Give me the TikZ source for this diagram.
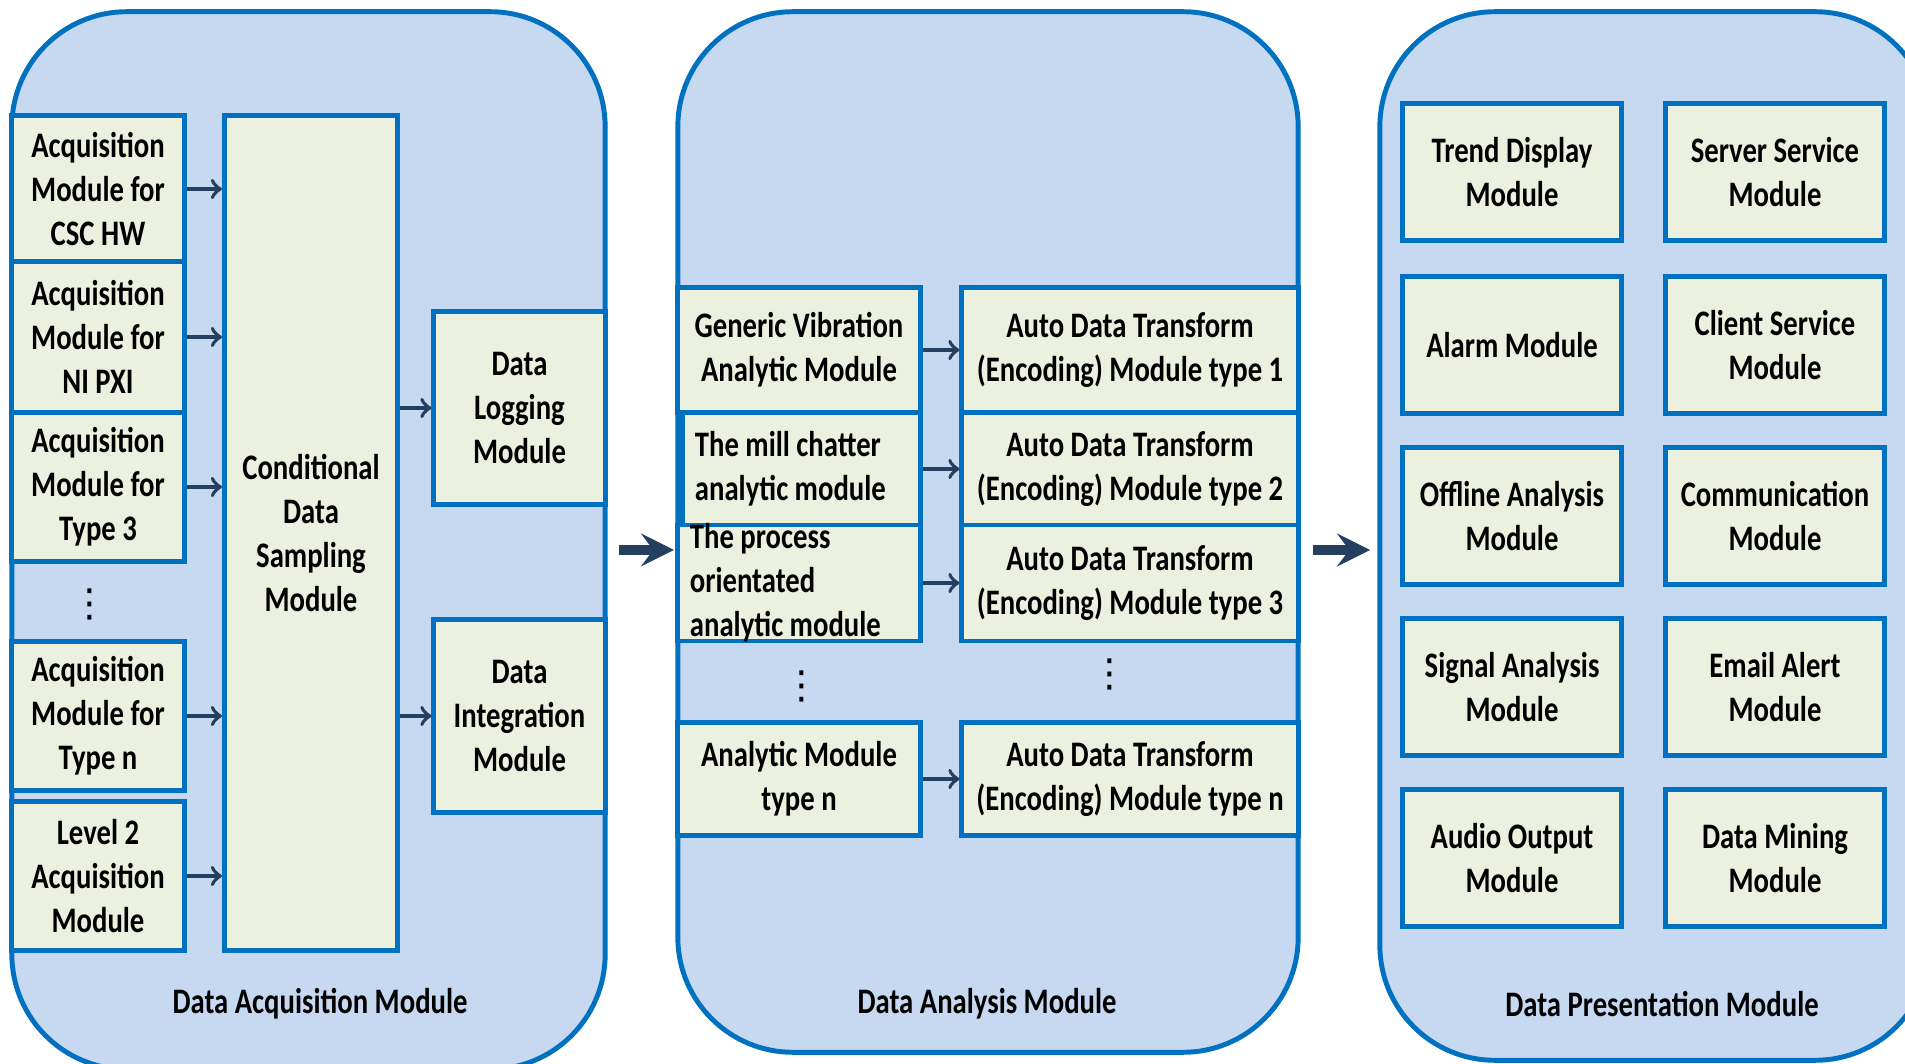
\documentclass[tikz,border=0pt]{standalone}
\usepackage{fontspec}
\setmainfont{Carlito}[FakeStretch=0.8]
\newfontfamily\dotsfont{DejaVu Sans}

\definecolor{panelblue}{RGB}{198,217,241}
\definecolor{borderblue}{RGB}{0,112,192}
\definecolor{boxgreen}{RGB}{235,241,222}
\definecolor{arrownavy}{RGB}{36,63,96}

\newcommand{\modfont}{\fontsize{10.2}{12.5}\selectfont\bfseries}

\tikzset{
    panel/.style = {
        draw=borderblue,
        fill=panelblue,
        line width=1.4pt,
        rounded corners=1.15cm
    },
    module/.style = {
        draw=borderblue,
        fill=boxgreen,
        line width=1.4pt,
        inner sep=0pt,
        align=center,
        font=\modfont
    },
    acqbox/.style = {module, minimum width=1.73cm, minimum height=1.49cm},
    sidebox/.style = {module, minimum width=1.71cm, minimum height=1.93cm},
    anabox/.style = {module, minimum width=2.42cm},
    codebox/.style = {module, minimum width=3.36cm},
    viewbox/.style = {module, minimum width=2.18cm, minimum height=1.37cm},
    link/.style = {
        ->,
        arrownavy,
        line width=1.1pt
    },
    flow/.style = {
        -stealth,
        arrownavy,
        line width=3pt
    },
    caption/.style = {
        font=\modfont
    },
    more/.style = {
        font=\dotsfont\fontsize{11}{12}\selectfont
    }
}

\begin{document}
\begin{tikzpicture}[x=0.01cm, y=-0.01cm]
    \useasboundingbox (0,0) rectangle (1905,1064);
    \clip (0,0) rectangle (1905,1064);

    % Draw the three panels
    \node[panel, minimum width=5.93cm, minimum height=10.57cm] (acq) at (308.5,540.5) {};
    \node[panel, minimum width=6.20cm, minimum height=10.40cm] (ana) at (988,532) {};
    \node[panel, minimum width=5.50cm, minimum height=10.48cm] (view) at (1655,536) {};

    % Data acquisition
    \node[acqbox, minimum height=1.47cm] (csc) at (98,189) {Acquisition\\Module for\\CSC HW};
    \node[acqbox, minimum height=1.50cm] (pxi) at (98,337) {Acquisition\\Module for\\NI PXI};
    \node[acqbox] (typethree) at (98,487) {Acquisition\\Module for\\Type 3};
    \node[more] (acqdots) at (90,604) {⋮};
    \node[acqbox] (typen) at (98,716) {Acquisition\\Module for\\Type n};
    \node[acqbox, minimum height=1.48cm] (leveltwo) at (98,876) {Level 2\\Acquisition\\Module};

    \node[module, minimum width=1.73cm, minimum height=8.35cm] (cond) at (311,533) {Conditional\\Data\\Sampling\\Module};

    \node[sidebox] (logging) at (519.5,408) {Data\\Logging\\Module};
    \node[sidebox] (integ) at (519.5,716) {Data\\Integration\\Module};

    \draw[link] (csc.east) -- (csc.east -| cond.west);
    \draw[link] (pxi.east) -- (pxi.east -| cond.west);
    \draw[link] (typethree.east) -- (typethree.east -| cond.west);
    \draw[link] (typen.east) -- (typen.east -| cond.west);
    \draw[link] (leveltwo.east) -- (leveltwo.east -| cond.west);
    \draw[link] (logging.west -| cond.east) -- (logging.west);
    \draw[link] (integ.west -| cond.east) -- (integ.west);

    \node[caption] (acqlabel) at (320,1004) {Data Acquisition Module};

    % Data analysis
    \node[anabox, minimum height=1.25cm] (generic) at (799,350) {Generic Vibration\\Analytic Module};
    \node[anabox, minimum width=2.37cm, minimum height=1.12cm] (mill) at (801.5,469) {\parbox[c]{2.13cm}{\raggedright The mill chatter\\analytic module}};
    \node[anabox, minimum height=1.16cm] (process) at (799,583) {\parbox[c][0.95cm][c]{2.18cm}{\raggedright The process\\orientated\\analytic module}};
    \node[more] (anadots) at (802,686) {⋮};
    \node[anabox, minimum height=1.13cm] (analyticn) at (799,779) {Analytic Module\\type n};

    \node[codebox, minimum height=1.25cm] (codeone) at (1130,350) {Auto Data Transform\\(Encoding) Module type 1};
    \node[codebox, minimum height=1.12cm] (codetwo) at (1130,469) {Auto Data Transform\\(Encoding) Module type 2};
    \node[codebox, minimum height=1.16cm] (codethree) at (1130,583) {Auto Data Transform\\(Encoding) Module type 3};
    \node[more] (codedots) at (1110,674) {⋮};
    \node[codebox, minimum height=1.13cm] (coden) at (1130,779) {Auto Data Transform\\(Encoding) Module type n};

    \draw[link] (generic) -- (codeone);
    \draw[link] (mill) -- (codetwo);
    \draw[link] (process) -- (codethree);
    \draw[link] (analyticn) -- (coden);

    \node[caption] (analabel) at (987,1004) {Data Analysis Module};

    % Data presentation
    \node[viewbox] (trend) at (1512,172) {Trend Display\\Module};
    \node[viewbox] (server) at (1775,172) {Server Service\\Module};
    \node[viewbox] (alarm) at (1512,345) {Alarm Module};
    \node[viewbox] (client) at (1775,345) {Client Service\\Module};
    \node[viewbox] (offline) at (1512,516) {Offline Analysis\\Module};
    \node[viewbox] (comm) at (1775,516) {Communication\\Module};
    \node[viewbox] (signal) at (1512,687) {Signal Analysis\\Module};
    \node[viewbox] (email) at (1775,687) {Email Alert\\Module};
    \node[viewbox] (audio) at (1512,858) {Audio Output\\Module};
    \node[viewbox] (mining) at (1775,858) {Data Mining\\Module};

    \node[caption] (viewlabel) at (1662,1004) {Data Presentation Module};

    % Draw arrows between panels
    \draw[flow] (acq.east |- 0,550) ++(11,0) coordinate (acqout) -- (674,550) coordinate (anain);
    \draw[flow] (ana.east |- 0,550) ++(12,0) coordinate (anaout) -- (1370,550) coordinate (viewin);
\end{tikzpicture}
\end{document}
